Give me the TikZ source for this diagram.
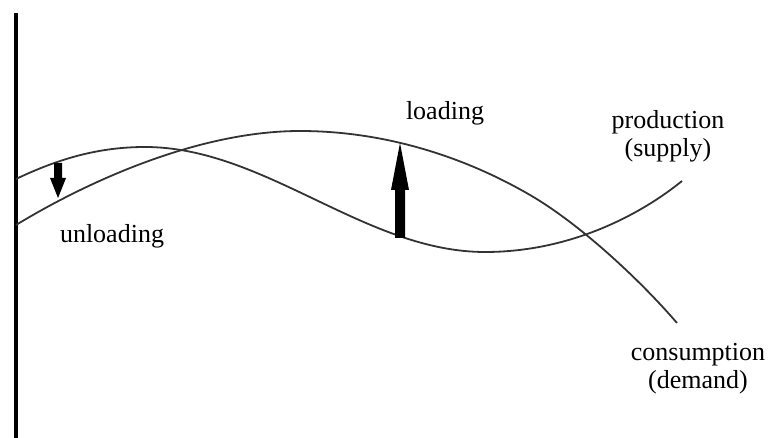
\documentclass[tikz,border=0pt]{standalone}
\usepackage{fontspec}
\setmainfont{Liberation Serif}
\definecolor{curvecol}{HTML}{333333}
\begin{document}
\begin{tikzpicture}[x=1pt,y=-1pt,
  curve/.style={draw=curvecol,line width=1.8pt},
  lbl/.style={font=\fontsize{26}{28}\selectfont,align=center,inner sep=0pt}]
\useasboundingbox (0,0) rectangle (771,438);
% axis
\draw[line width=4pt] (16,13) -- (16,438);
% production (supply)
\draw[curve] (16,179) .. controls (60,158) and (100,147) .. (145,147)
  .. controls (265,147) and (365,252) .. (485,252)
  .. controls (570,252) and (640,215) .. (682,181);
% consumption (demand)
\draw[curve] (16,225) .. controls (90,180) and (200,131) .. (300,131)
  .. controls (390,131) and (470,160) .. (530,195)
  .. controls (580,224) and (640,280) .. (677,323);
% arrows
\coordinate (u1) at (58,163);
\coordinate (u2) at (58,198);
\coordinate (l1) at (400,238);
\coordinate (l2) at (400,143);
\fill (u1) ++(-4,0) -- ++(8,0) -- ++(0,15) -- ++(4,0) -- (u2) -- ++(-8,-20) -- ++(4,0) -- cycle;
\fill (l1) ++(-5,0) -- ++(10,0) -- ++(0,-48) -- ++(4,0) -- (l2) -- ++(-9,47) -- ++(4,0) -- cycle;
% labels
\node[lbl] (unl) at (112,236) {unloading};
\node[lbl] (lod) at (445,113) {loading};
\node[lbl] (prod) at (668,136) {production\\(supply)};
\node[lbl] (cons) at (698,369) {consumption\\(demand)};
\end{tikzpicture}
\end{document}
